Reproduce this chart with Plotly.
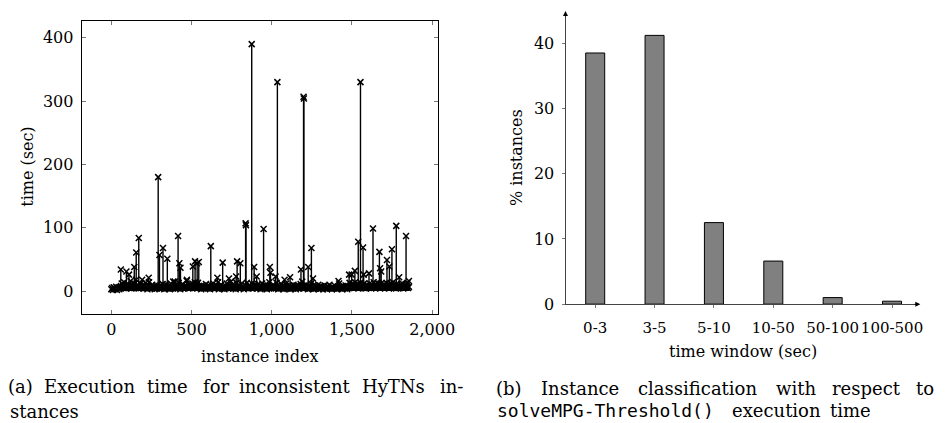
import plotly.graph_objects as go

# ---------------- data: panel (a) ----------------
base_step = 5
base_values = [
    3,5,2,6,4,3,7,2,5,4,3,6,8,12,5,9,14,7,4,10,
    6,11,5,8,16,4,7,9,13,6,5,18,8,10,4,7,12,5,9,6,
    4,8,5,13,6,3,9,14,5,7,4,10,6,8,3,5,9,4,7,6,
    5,9,4,7,11,6,3,8,5,10,4,6,9,3,12,5,7,4,8,15,
    6,4,9,5,13,7,3,8,6,11,4,7,5,9,16,6,4,10,5,8,
    7,12,5,9,14,6,10,4,13,8,5,7,3,9,6,4,8,5,11,7,
    4,9,6,3,10,5,8,12,4,7,5,9,6,14,3,8,5,10,4,7,
    6,3,9,5,12,7,4,8,6,15,5,10,4,7,9,3,13,6,8,5,
    9,4,11,6,7,3,10,5,8,13,6,4,9,7,5,12,4,8,6,10,
    5,8,4,11,6,9,3,7,12,5,8,4,10,6,3,9,5,14,7,4,
    8,6,10,4,7,5,13,9,3,6,8,4,11,5,7,3,9,6,12,4,
    7,5,9,3,8,6,4,10,5,7,3,9,6,4,8,5,11,7,15,6,
    4,8,5,10,6,3,9,7,4,12,5,8,3,6,9,4,7,5,10,3,
    6,4,8,5,3,7,9,4,6,3,8,5,10,4,6,3,7,5,4,8,
    5,3,7,4,12,6,4,8,3,5,7,4,9,6,3,8,5,13,7,10,
    6,12,8,5,14,9,7,11,4,10,6,13,8,5,9,12,7,4,10,6,
    9,5,12,7,4,10,8,14,6,11,5,9,13,7,10,4,12,8,6,9,
    11,5,8,13,7,10,4,9,12,6,8,14,5,10,7,4,11,9,6,8,
    5,10,7,12,4,9,6,11,8,13,5,7,
]
spike_index = [59, 94, 110, 143, 155, 171, 192, 233, 292, 300, 322, 349, 386,
               416, 424, 431, 471, 508, 522, 535, 545, 620, 661, 694, 733, 778,
               784, 804, 837, 839, 875, 890, 906, 949, 988, 992, 1024, 1035, 1080,
               1114, 1182, 1198, 1200, 1227, 1247, 1257, 1416, 1482, 1498, 1518,
               1539, 1553, 1569, 1573, 1606, 1631, 1671, 1675, 1682, 1718, 1733,
               1749, 1776, 1794, 1837, 1855]
spike_time = [34, 31, 26, 38, 61, 84, 18, 21, 180, 57, 68, 51, 15,
              87, 44, 37, 18, 39, 47, 44, 46, 71, 21, 45, 20, 23,
              47, 44, 107, 104, 390, 38, 23, 98, 38, 29, 23, 330, 18,
              22, 34, 307, 304, 38, 68, 20, 16, 26, 26, 32,
              78, 330, 69, 26, 28, 99, 62, 36, 31, 49, 39,
              66, 103, 22, 87, 16]

# ---------------- data: panel (b) ----------------
windows = ["0-3", "3-5", "5-10", "10-50", "50-100", "100-500"]
pct_instances = [38.5, 41.2, 12.5, 6.6, 1.0, 0.45]

x_ticks_a = [0, 500, 1000, 1500, 2000]
x_ticklabels_a = ["0", "500", "1,000", "1,500", "2,000"]
y_ticks_a = [0, 100, 200, 300, 400]
y_ticks_b = [0, 10, 20, 30, 40]

W, H = 947, 423
SERIF = "DejaVu Serif"
MONO = "DejaVu Sans Mono"

idx_all = [i * base_step for i in range(len(base_values))] + spike_index
val_all = list(base_values) + spike_time

stem_x, stem_y = [], []
for i, v in zip(idx_all, val_all):
    stem_x += [i, i, None]
    stem_y += [0, v, None]

fig = go.Figure()
fig.add_trace(go.Scatter(x=stem_x, y=stem_y, mode="lines",
                         line=dict(color="black", width=1.4),
                         xaxis="x", yaxis="y", hoverinfo="skip", showlegend=False))
fig.add_trace(go.Scatter(x=idx_all, y=val_all, mode="markers",
                         marker=dict(symbol="x-thin", size=6, color="black",
                                     line=dict(color="black", width=1.5)),
                         xaxis="x", yaxis="y", showlegend=False))
fig.add_trace(go.Bar(x=windows, y=pct_instances, width=0.32,
                     marker=dict(color="#808080", line=dict(color="black", width=1)),
                     xaxis="x2", yaxis="y2", showlegend=False))

def px(x):
    return x / W

def py(y):
    return 1 - y / H

tickfont = dict(family=SERIF, size=16, color="black")

fig.update_layout(
    width=W, height=H, margin=dict(l=0, r=0, t=0, b=0),
    paper_bgcolor="white", plot_bgcolor="white",
    xaxis=dict(domain=[px(75), px(438)], range=[-185, 2037], anchor="y",
               tickvals=x_ticks_a, ticktext=x_ticklabels_a, tickfont=tickfont,
               ticks="inside", ticklen=4, tickcolor="#777", tickwidth=1,
               showline=True, linecolor="black", linewidth=1, mirror="ticks",
               showgrid=False, zeroline=False, ticklabelstandoff=1, tickangle=0),
    yaxis=dict(domain=[py(313), py(13)], range=[-35.5, 427], anchor="x",
               tickvals=y_ticks_a, tickfont=tickfont,
               ticks="inside", ticklen=4, tickcolor="#777", tickwidth=1,
               showline=True, linecolor="black", linewidth=1, mirror="ticks",
               showgrid=False, zeroline=False, ticklabelstandoff=4),
    xaxis2=dict(domain=[px(567.7), px(928)], range=[-0.5, 5.46], anchor="y2",
                type="category", tickfont=dict(family=SERIF, size=15, color="black"),
                tickangle=0,
                ticks="outside", ticklen=3, tickcolor="#777", tickwidth=1,
                showline=True, linecolor="#444", linewidth=1,
                showgrid=False, zeroline=False, ticklabelstandoff=7),
    yaxis2=dict(domain=[py(303.3), py(4)], range=[0, 44.8], anchor="x2",
                tickvals=y_ticks_b, tickfont=tickfont,
                ticks="outside", ticklen=3, tickcolor="#777", tickwidth=1,
                showline=True, linecolor="#444", linewidth=1,
                showgrid=False, zeroline=False, ticklabelstandoff=4),
)

ann = []
def label(text, x, y, size=16, angle=0, family=SERIF, xanchor="center"):
    ann.append(dict(text=text, x=px(x), y=py(y), xref="paper", yref="paper",
                    showarrow=False, textangle=angle, xanchor=xanchor, yanchor="middle",
                    borderpad=0,
                    font=dict(family=family, size=size, color="black")))

label("instance index", 256.5, 357)
label("time (sec)", 20, 163, angle=-90)
label("% instances", 518, 153, angle=-90)
label("time window (sec)", 748, 352)

# axis arrows for panel (b)
ann.append(dict(x=px(929), y=py(303.3), xref="paper", yref="paper", ax=-7, ay=0,
                showarrow=True, arrowhead=2, arrowsize=1, arrowwidth=1,
                arrowcolor="black", text=""))
ann.append(dict(x=px(567.7), y=py(3), xref="paper", yref="paper", ax=0, ay=7,
                showarrow=True, arrowhead=2, arrowsize=1, arrowwidth=1,
                arrowcolor="black", text=""))

# captions (justified: each word centred where the reference puts it)
cap_a1 = [("(a)", 13), ("Execution", 82.5), ("time", 162), ("for", 212),
          ("inconsistent", 292.5), ("HyTNs", 392.5), ("in-", 452)]
cap_b1 = [("(b)", 510), ("Instance", 582.5), ("classification", 702), ("with", 802.5),
          ("respect", 874), ("to", 934)]
cap_b2 = [("execution", 783), ("time", 858)]
for w, x in cap_a1:
    label(w, x, 388, size=18)
label("stances", 1, 413, size=18, xanchor="left")
for w, x in cap_b1:
    label(w, x, 390, size=18)
label("solveMPG-Threshold()", 497, 412, size=18, family=MONO, xanchor="left")
for w, x in cap_b2:
    label(w, x, 412, size=18)

fig.update_layout(annotations=ann)
fig.write_html("out.html")
